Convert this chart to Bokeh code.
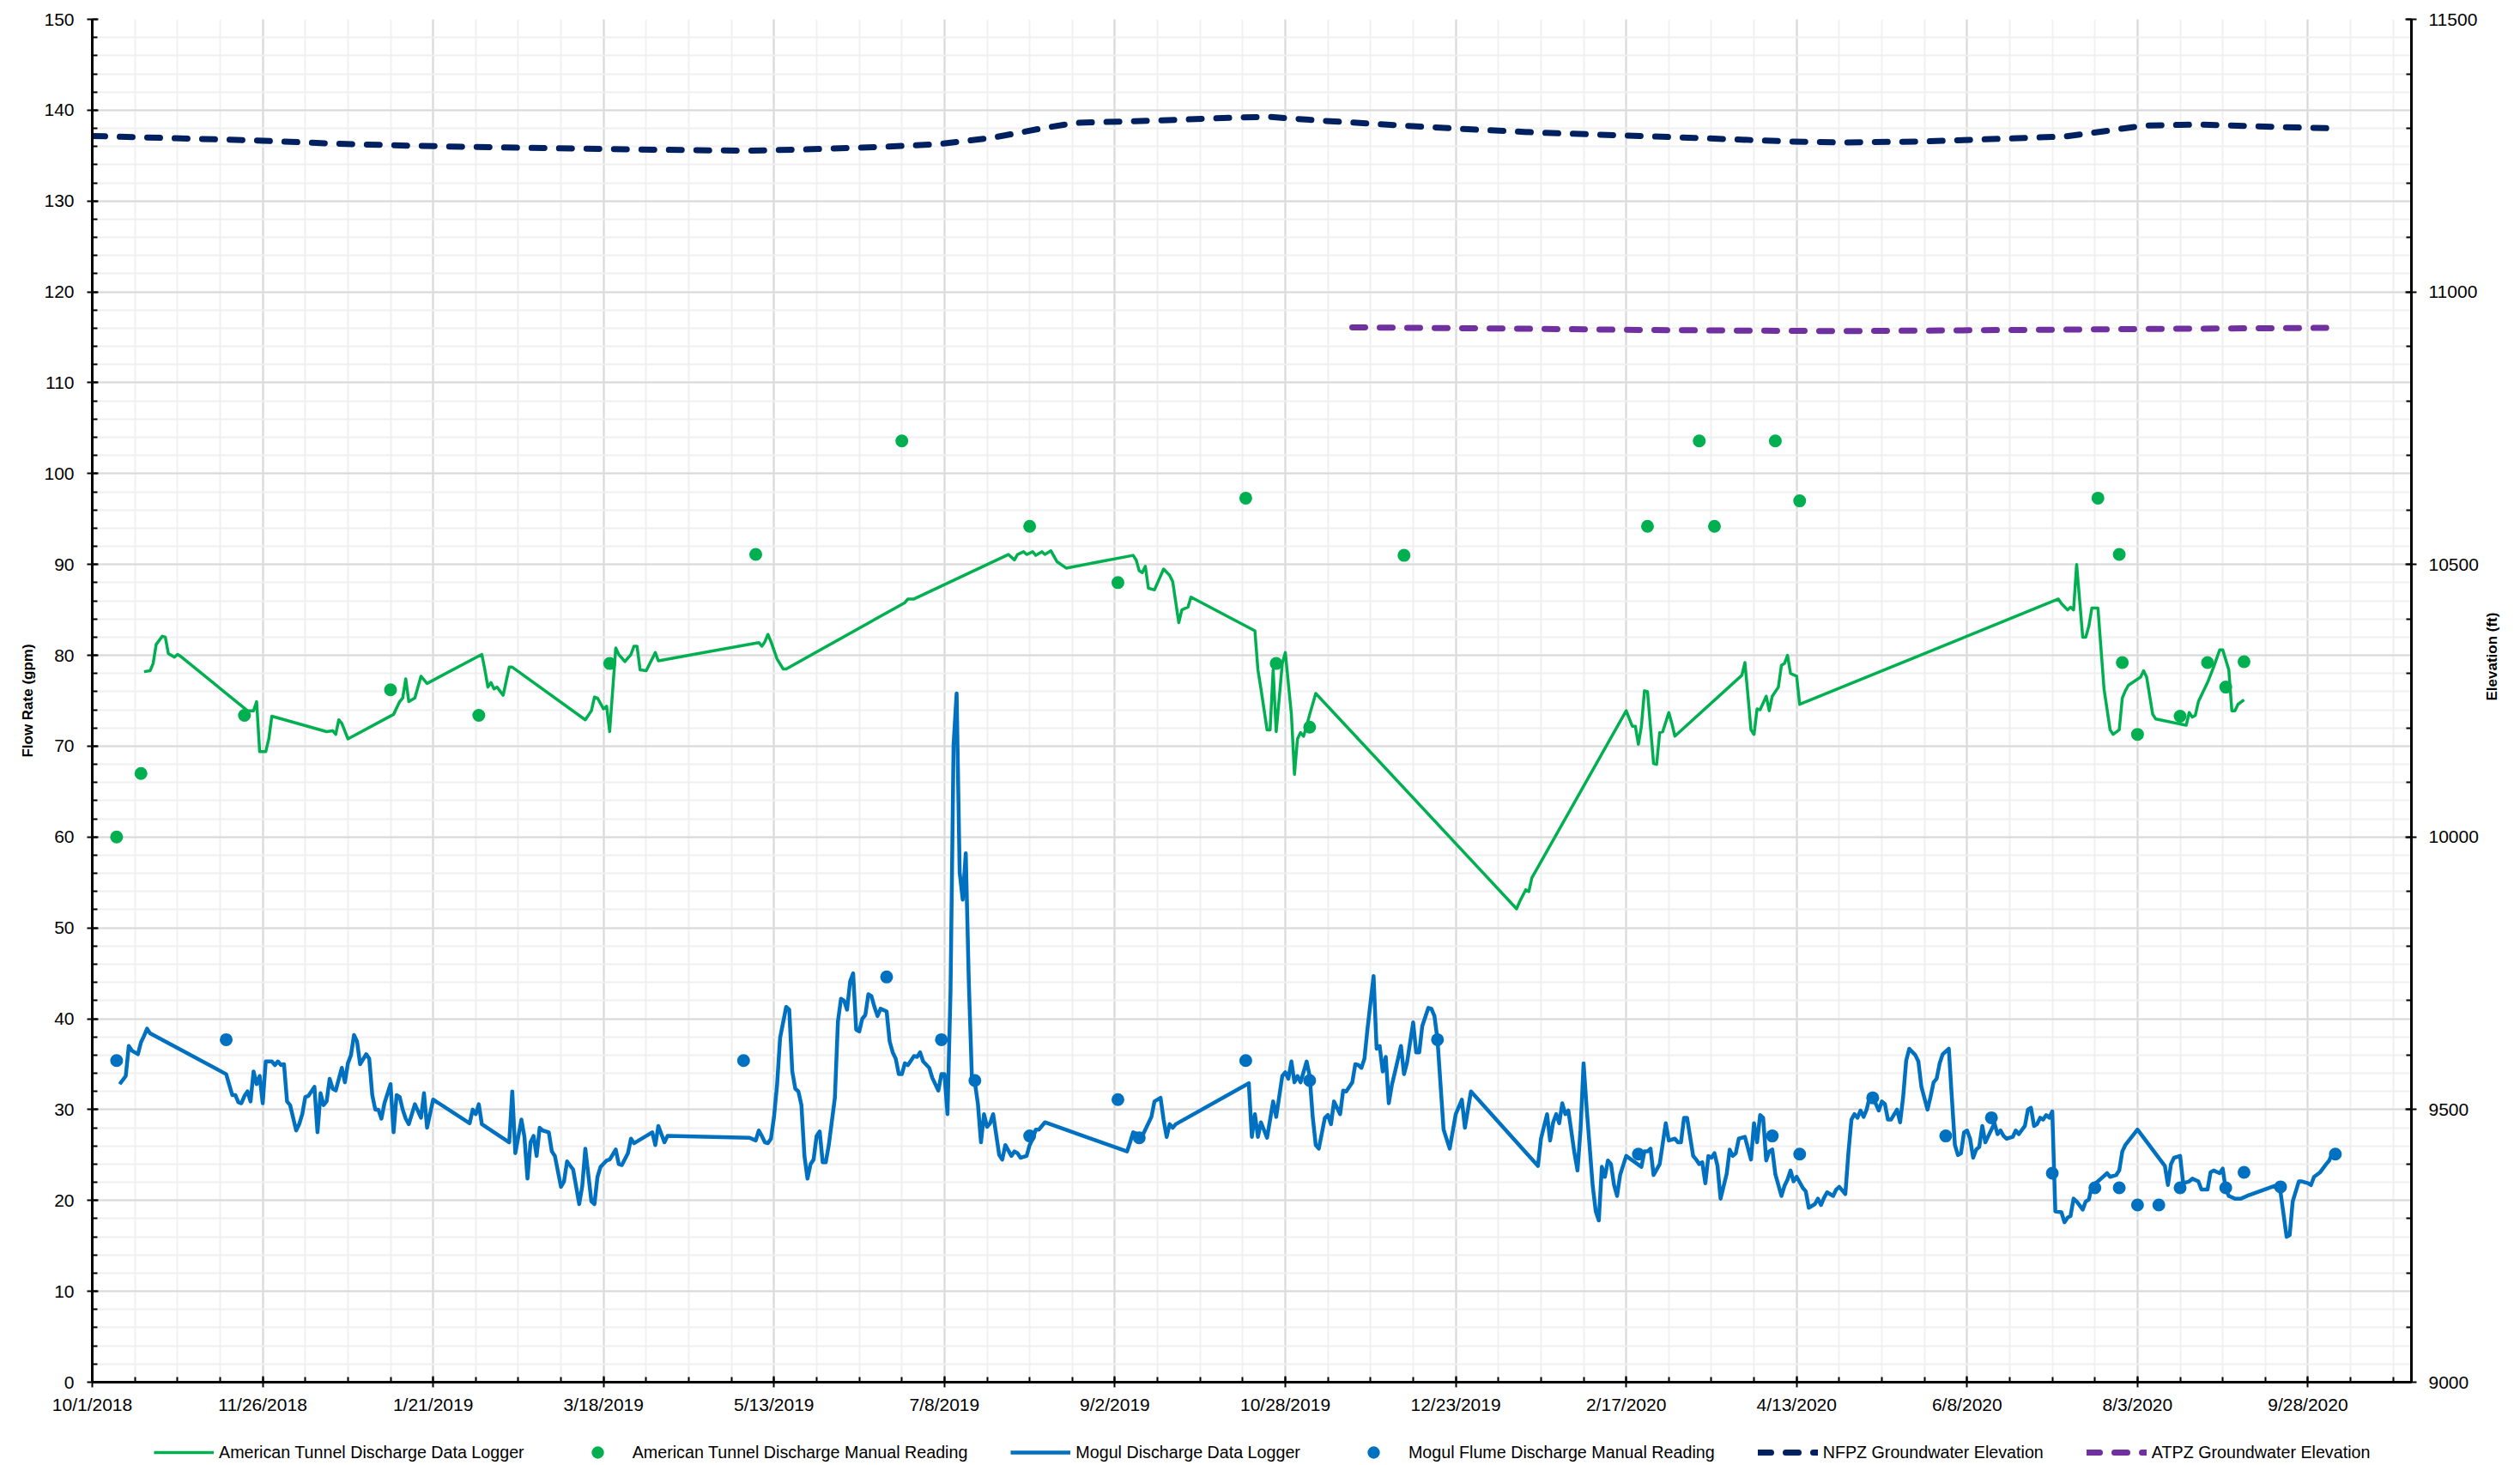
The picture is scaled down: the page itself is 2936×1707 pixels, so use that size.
import math
import pandas as pd
from bokeh.plotting import figure
from bokeh.layouts import column
from bokeh.models import Range1d, LinearAxis, FixedTicker, Legend, LegendItem
from bokeh.embed import file_html
from bokeh.resources import INLINE

# ---------------- data ----------------
X_TICK_LABELS = ["10/1/2018", "11/26/2018", "1/21/2019", "3/18/2019", "5/13/2019", "7/8/2019",
                 "9/2/2019", "10/28/2019", "12/23/2019", "2/17/2020", "4/13/2020", "6/8/2020",
                 "8/3/2020", "9/28/2020"]
X_START, X_END = "2018-10-01", "2020-11-01"
FLOW_TICKS = list(range(0, 151, 10))
FLOW_MINOR = list(range(0, 151, 2))
ELEV_TICKS = list(range(9000, 11501, 500))
ELEV_MINOR = list(range(9000, 11501, 100))

at_logger_dates = [
    "2018-10-18", "2018-10-20", "2018-10-21", "2018-10-22", "2018-10-24", "2018-10-25", "2018-10-26", "2018-10-28", "2018-10-29", "2018-10-30",
    "2018-11-21", "2018-11-23", "2018-11-24", "2018-11-25", "2018-11-27", "2018-11-28", "2018-11-29", "2018-12-17", "2018-12-19", "2018-12-20",
    "2018-12-21", "2018-12-22", "2018-12-24", "2019-01-08", "2019-01-10", "2019-01-11", "2019-01-12", "2019-01-13", "2019-01-15", "2019-01-17",
    "2019-01-19", "2019-02-06", "2019-02-07", "2019-02-08", "2019-02-09", "2019-02-10", "2019-02-11", "2019-02-13", "2019-02-15", "2019-02-16",
    "2019-03-12", "2019-03-14", "2019-03-15", "2019-03-16", "2019-03-18", "2019-03-19", "2019-03-20", "2019-03-22", "2019-03-23", "2019-03-25",
    "2019-03-27", "2019-03-28", "2019-03-29", "2019-03-30", "2019-04-01", "2019-04-04", "2019-04-05", "2019-05-08", "2019-05-09", "2019-05-10",
    "2019-05-11", "2019-05-12", "2019-05-14", "2019-05-16", "2019-05-17", "2019-06-25", "2019-06-26", "2019-06-28", "2019-07-29", "2019-07-31",
    "2019-08-01", "2019-08-03", "2019-08-04", "2019-08-06", "2019-08-07", "2019-08-09", "2019-08-10", "2019-08-12", "2019-08-14", "2019-08-17",
    "2019-09-08", "2019-09-09", "2019-09-10", "2019-09-11", "2019-09-12", "2019-09-13", "2019-09-15", "2019-09-18", "2019-09-20", "2019-09-21",
    "2019-09-23", "2019-09-24", "2019-09-26", "2019-09-27", "2019-10-18", "2019-10-19", "2019-10-20", "2019-10-22", "2019-10-23", "2019-10-24",
    "2019-10-25", "2019-10-26", "2019-10-27", "2019-10-28", "2019-10-30", "2019-10-31", "2019-11-01", "2019-11-02", "2019-11-03", "2019-11-04",
    "2019-11-05", "2019-11-07", "2020-01-12", "2020-01-13", "2020-01-15", "2020-01-16", "2020-01-17", "2020-02-17", "2020-02-19", "2020-02-20",
    "2020-02-21", "2020-02-22", "2020-02-23", "2020-02-24", "2020-02-26", "2020-02-27", "2020-02-28", "2020-02-29", "2020-03-02", "2020-03-03",
    "2020-03-04", "2020-03-26", "2020-03-27", "2020-03-28", "2020-03-29", "2020-03-30", "2020-03-31", "2020-04-01", "2020-04-03", "2020-04-04",
    "2020-04-05", "2020-04-07", "2020-04-08", "2020-04-09", "2020-04-10", "2020-04-11", "2020-04-13", "2020-04-14", "2020-07-08", "2020-07-09",
    "2020-07-11", "2020-07-12", "2020-07-13", "2020-07-14", "2020-07-16", "2020-07-17", "2020-07-18", "2020-07-19", "2020-07-21", "2020-07-23",
    "2020-07-25", "2020-07-26", "2020-07-28", "2020-07-29", "2020-07-30", "2020-07-31", "2020-08-04", "2020-08-05", "2020-08-06", "2020-08-08",
    "2020-08-09", "2020-08-19", "2020-08-20", "2020-08-21", "2020-08-22", "2020-08-23", "2020-08-26", "2020-08-28", "2020-08-30", "2020-08-31",
    "2020-09-02", "2020-09-03", "2020-09-04", "2020-09-05", "2020-09-07"]
at_logger_gpm = [
    78.2, 78.3, 79.1, 81.2, 82.1, 82.0, 80.2, 79.8, 80.1, 79.9,
    73.9, 73.9, 74.9, 69.4, 69.4, 70.8, 73.3, 71.6, 71.7, 71.3,
    72.9, 72.5, 70.8, 73.5, 74.9, 75.3, 77.4, 74.9, 75.3, 77.7,
    76.9, 80.1, 78.4, 76.5, 77.0, 76.3, 76.5, 75.6, 78.7, 78.7,
    72.9, 73.9, 75.4, 75.3, 74.1, 74.4, 71.6, 80.8, 80.1, 79.3,
    80.1, 81.0, 81.0, 78.4, 78.3, 80.3, 79.4, 81.4, 81.0, 81.5,
    82.3, 81.5, 79.6, 78.5, 78.5, 85.8, 86.2, 86.2, 91.1, 90.5,
    91.1, 91.4, 91.1, 91.4, 91.0, 91.4, 91.1, 91.5, 90.3, 89.6,
    91.0, 90.5, 89.3, 89.1, 89.8, 87.4, 87.2, 89.5, 88.8, 88.1,
    83.6, 85.0, 85.3, 86.4, 82.7, 78.4, 76.3, 71.8, 71.8, 78.4,
    71.6, 75.3, 79.1, 80.3, 73.5, 66.9, 70.8, 71.5, 71.1, 72.2,
    73.5, 75.8, 52.1, 52.9, 54.2, 54.0, 55.5, 73.9, 72.2, 72.2,
    70.2, 72.2, 76.1, 76.0, 68.1, 68.0, 71.5, 71.6, 73.7, 72.5,
    71.1, 77.8, 79.2, 75.6, 71.8, 71.3, 74.1, 74.0, 75.5, 73.9,
    75.5, 76.5, 78.9, 79.1, 80.0, 78.0, 77.7, 74.6, 86.2, 85.7,
    85.0, 85.3, 85.0, 90.0, 82.0, 82.0, 83.2, 85.2, 85.2, 76.3,
    71.8, 71.3, 71.8, 75.3, 76.1, 76.7, 77.6, 78.3, 77.6, 73.5,
    73.0, 72.3, 73.7, 73.2, 73.4, 74.9, 77.0, 78.7, 80.6, 80.6,
    78.4, 73.9, 73.9, 74.6, 75.1]

at_manual_dates = ["2018-10-09", "2018-10-17", "2018-11-20", "2019-01-07", "2019-02-05", "2019-03-20",
                   "2019-05-07", "2019-06-24", "2019-08-05", "2019-09-03", "2019-10-15", "2019-10-25",
                   "2019-11-05", "2019-12-06", "2020-02-24", "2020-03-12", "2020-03-17", "2020-04-06",
                   "2020-04-14", "2020-07-21", "2020-07-28", "2020-07-29", "2020-08-03", "2020-08-17",
                   "2020-08-26", "2020-09-01", "2020-09-07"]
at_manual_gpm = [60.0, 67.0, 73.4, 76.2, 73.4, 79.1,
                 91.1, 103.6, 94.2, 88.0, 97.3, 79.1,
                 72.1, 91.0, 94.2, 103.6, 94.2, 103.6,
                 97.0, 97.3, 91.1, 79.2, 71.3, 73.3,
                 79.2, 76.5, 79.3]

mogul_logger_dates = [
    "2018-10-10", "2018-10-12", "2018-10-13", "2018-10-14", "2018-10-16", "2018-10-17", "2018-10-18", "2018-10-19", "2018-10-20", "2018-11-14",
    "2018-11-16", "2018-11-17", "2018-11-18", "2018-11-19", "2018-11-20", "2018-11-21", "2018-11-22", "2018-11-23", "2018-11-24", "2018-11-25",
    "2018-11-26", "2018-11-27", "2018-11-29", "2018-11-30", "2018-12-01", "2018-12-02", "2018-12-03", "2018-12-04", "2018-12-05", "2018-12-07",
    "2018-12-08", "2018-12-09", "2018-12-10", "2018-12-11", "2018-12-13", "2018-12-14", "2018-12-15", "2018-12-16", "2018-12-17", "2018-12-18",
    "2018-12-19", "2018-12-20", "2018-12-22", "2018-12-23", "2018-12-24", "2018-12-25", "2018-12-26", "2018-12-27", "2018-12-28", "2018-12-30",
    "2018-12-31", "2019-01-01", "2019-01-02", "2019-01-03", "2019-01-04", "2019-01-05", "2019-01-07", "2019-01-08", "2019-01-09", "2019-01-10",
    "2019-01-11", "2019-01-12", "2019-01-13", "2019-01-15", "2019-01-17", "2019-01-18", "2019-01-19", "2019-01-21", "2019-02-02", "2019-02-03",
    "2019-02-04", "2019-02-05", "2019-02-06", "2019-02-15", "2019-02-16", "2019-02-17", "2019-02-19", "2019-02-20", "2019-02-21", "2019-02-22",
    "2019-02-23", "2019-02-24", "2019-02-25", "2019-02-26", "2019-02-28", "2019-03-01", "2019-03-02", "2019-03-04", "2019-03-05", "2019-03-06",
    "2019-03-08", "2019-03-10", "2019-03-11", "2019-03-12", "2019-03-14", "2019-03-15", "2019-03-16", "2019-03-17", "2019-03-19", "2019-03-20",
    "2019-03-22", "2019-03-23", "2019-03-24", "2019-03-26", "2019-03-27", "2019-03-28", "2019-04-03", "2019-04-04", "2019-04-05", "2019-04-07",
    "2019-04-08", "2019-05-05", "2019-05-07", "2019-05-08", "2019-05-09", "2019-05-10", "2019-05-11", "2019-05-12", "2019-05-13", "2019-05-14",
    "2019-05-15", "2019-05-17", "2019-05-18", "2019-05-19", "2019-05-20", "2019-05-21", "2019-05-22", "2019-05-23", "2019-05-24", "2019-05-25",
    "2019-05-26", "2019-05-27", "2019-05-28", "2019-05-29", "2019-05-30", "2019-05-31", "2019-06-02", "2019-06-03", "2019-06-04", "2019-06-05",
    "2019-06-06", "2019-06-07", "2019-06-08", "2019-06-09", "2019-06-10", "2019-06-11", "2019-06-12", "2019-06-13", "2019-06-14", "2019-06-15",
    "2019-06-16", "2019-06-17", "2019-06-19", "2019-06-20", "2019-06-21", "2019-06-22", "2019-06-23", "2019-06-24", "2019-06-25", "2019-06-26",
    "2019-06-28", "2019-06-29", "2019-06-30", "2019-07-01", "2019-07-03", "2019-07-04", "2019-07-06", "2019-07-07", "2019-07-08", "2019-07-09",
    "2019-07-10", "2019-07-11", "2019-07-12", "2019-07-13", "2019-07-14", "2019-07-15", "2019-07-16", "2019-07-17", "2019-07-18", "2019-07-19",
    "2019-07-20", "2019-07-21", "2019-07-22", "2019-07-23", "2019-07-24", "2019-07-26", "2019-07-27", "2019-07-28", "2019-07-30", "2019-07-31",
    "2019-08-01", "2019-08-02", "2019-08-04", "2019-08-05", "2019-08-06", "2019-08-07", "2019-08-08", "2019-08-10", "2019-09-06", "2019-09-07",
    "2019-09-08", "2019-09-11", "2019-09-12", "2019-09-14", "2019-09-15", "2019-09-17", "2019-09-18", "2019-09-19", "2019-09-20", "2019-09-21",
    "2019-09-22", "2019-10-16", "2019-10-17", "2019-10-18", "2019-10-19", "2019-10-20", "2019-10-22", "2019-10-24", "2019-10-25", "2019-10-27",
    "2019-10-28", "2019-10-29", "2019-10-30", "2019-10-31", "2019-11-01", "2019-11-02", "2019-11-04", "2019-11-05", "2019-11-06", "2019-11-07",
    "2019-11-08", "2019-11-10", "2019-11-11", "2019-11-12", "2019-11-13", "2019-11-15", "2019-11-16", "2019-11-17", "2019-11-19", "2019-11-20",
    "2019-11-21", "2019-11-22", "2019-11-23", "2019-11-24", "2019-11-26", "2019-11-27", "2019-11-28", "2019-11-29", "2019-11-30", "2019-12-01",
    "2019-12-02", "2019-12-03", "2019-12-05", "2019-12-06", "2019-12-07", "2019-12-09", "2019-12-10", "2019-12-11", "2019-12-12", "2019-12-14",
    "2019-12-15", "2019-12-16", "2019-12-17", "2019-12-19", "2019-12-21", "2019-12-23", "2019-12-25", "2019-12-26", "2019-12-28", "2020-01-19",
    "2020-01-20", "2020-01-22", "2020-01-23", "2020-01-24", "2020-01-25", "2020-01-26", "2020-01-27", "2020-01-28", "2020-01-29", "2020-01-31",
    "2020-02-01", "2020-02-02", "2020-02-03", "2020-02-04", "2020-02-06", "2020-02-07", "2020-02-08", "2020-02-09", "2020-02-10", "2020-02-11",
    "2020-02-12", "2020-02-13", "2020-02-14", "2020-02-15", "2020-02-17", "2020-02-22", "2020-02-23", "2020-02-24", "2020-02-25", "2020-02-26",
    "2020-02-28", "2020-03-01", "2020-03-02", "2020-03-04", "2020-03-05", "2020-03-06", "2020-03-07", "2020-03-08", "2020-03-10", "2020-03-11",
    "2020-03-12", "2020-03-13", "2020-03-14", "2020-03-15", "2020-03-16", "2020-03-17", "2020-03-18", "2020-03-19", "2020-03-21", "2020-03-22",
    "2020-03-23", "2020-03-24", "2020-03-25", "2020-03-27", "2020-03-29", "2020-03-30", "2020-03-31", "2020-04-01", "2020-04-02", "2020-04-03",
    "2020-04-04", "2020-04-05", "2020-04-06", "2020-04-08", "2020-04-09", "2020-04-10", "2020-04-11", "2020-04-12", "2020-04-13", "2020-04-15",
    "2020-04-16", "2020-04-17", "2020-04-19", "2020-04-20", "2020-04-21", "2020-04-22", "2020-04-23", "2020-04-25", "2020-04-26", "2020-04-27",
    "2020-04-29", "2020-04-30", "2020-05-01", "2020-05-02", "2020-05-03", "2020-05-04", "2020-05-05", "2020-05-06", "2020-05-07", "2020-05-08",
    "2020-05-10", "2020-05-11", "2020-05-12", "2020-05-13", "2020-05-14", "2020-05-16", "2020-05-17", "2020-05-18", "2020-05-19", "2020-05-20",
    "2020-05-22", "2020-05-23", "2020-05-24", "2020-05-26", "2020-05-27", "2020-05-28", "2020-05-29", "2020-05-30", "2020-05-31", "2020-06-02",
    "2020-06-03", "2020-06-04", "2020-06-05", "2020-06-06", "2020-06-07", "2020-06-08", "2020-06-09", "2020-06-10", "2020-06-11", "2020-06-12",
    "2020-06-13", "2020-06-14", "2020-06-15", "2020-06-17", "2020-06-18", "2020-06-19", "2020-06-20", "2020-06-21", "2020-06-23", "2020-06-24",
    "2020-06-25", "2020-06-27", "2020-06-28", "2020-06-29", "2020-06-30", "2020-07-01", "2020-07-02", "2020-07-03", "2020-07-04", "2020-07-05",
    "2020-07-06", "2020-07-07", "2020-07-09", "2020-07-10", "2020-07-11", "2020-07-12", "2020-07-13", "2020-07-14", "2020-07-16", "2020-07-17",
    "2020-07-18", "2020-07-19", "2020-07-21", "2020-07-22", "2020-07-24", "2020-07-25", "2020-07-27", "2020-07-28", "2020-07-29", "2020-07-30",
    "2020-08-03", "2020-08-12", "2020-08-13", "2020-08-14", "2020-08-15", "2020-08-17", "2020-08-18", "2020-08-20", "2020-08-21", "2020-08-23",
    "2020-08-24", "2020-08-26", "2020-08-27", "2020-08-28", "2020-08-30", "2020-08-31", "2020-09-01", "2020-09-02", "2020-09-04", "2020-09-06",
    "2020-09-08", "2020-09-17", "2020-09-19", "2020-09-21", "2020-09-22", "2020-09-23", "2020-09-25", "2020-09-26", "2020-09-28", "2020-09-29",
    "2020-09-30", "2020-10-02", "2020-10-04", "2020-10-05", "2020-10-06"]
mogul_logger_gpm = [
    32.8, 33.7, 37.0, 36.5, 36.1, 37.4, 38.1, 38.9, 38.4, 33.9,
    31.6, 31.6, 30.8, 30.7, 31.5, 32.0, 30.9, 34.2, 32.8, 33.7,
    30.7, 35.3, 35.3, 34.9, 35.3, 34.9, 35.0, 30.9, 30.5, 27.7,
    28.4, 29.5, 31.4, 31.5, 32.5, 27.5, 31.8, 30.5, 30.9, 33.4,
    32.3, 32.1, 34.6, 33.0, 35.1, 36.0, 38.2, 37.5, 35.0, 36.1,
    35.6, 31.6, 30.0, 30.0, 29.0, 30.7, 32.8, 27.5, 31.6, 31.4,
    30.0, 29.0, 28.4, 30.6, 29.1, 31.8, 28.0, 31.1, 28.5, 30.0,
    29.5, 30.6, 28.4, 26.4, 32.0, 25.2, 28.9, 27.0, 22.4, 26.4,
    27.1, 24.9, 28.0, 27.7, 27.5, 25.4, 24.9, 21.5, 22.1, 24.3,
    23.4, 19.6, 21.6, 25.7, 19.9, 19.6, 22.6, 23.7, 24.4, 24.5,
    25.6, 24.0, 23.9, 25.2, 26.8, 26.3, 27.5, 26.1, 28.2, 26.4,
    27.1, 26.9, 26.6, 27.7, 27.1, 26.4, 26.3, 26.8, 29.2, 32.7,
    37.9, 41.3, 41.0, 34.2, 32.3, 32.0, 30.5, 24.9, 22.4, 24.0,
    24.5, 27.1, 27.6, 24.2, 24.2, 26.1, 31.3, 39.7, 42.2, 42.0,
    41.0, 44.1, 45.0, 38.8, 38.6, 40.0, 40.4, 42.7, 42.5, 41.3,
    40.3, 41.1, 40.8, 37.5, 36.3, 35.6, 33.9, 33.9, 35.1, 34.9,
    35.9, 35.8, 36.3, 35.3, 34.6, 33.5, 32.1, 33.9, 33.9, 29.5,
    43.1, 70.2, 75.8, 56.1, 53.1, 58.2, 44.1, 33.7, 33.0, 30.6,
    26.4, 29.5, 28.1, 28.5, 29.5, 25.0, 24.5, 26.1, 24.9, 25.4,
    25.2, 24.7, 24.9, 26.1, 26.8, 27.8, 27.8, 28.6, 25.4, 26.4,
    27.5, 27.1, 27.8, 29.2, 30.9, 31.3, 28.9, 27.0, 28.4, 28.0,
    28.4, 32.9, 27.0, 29.5, 27.0, 28.6, 26.9, 30.9, 29.2, 33.7,
    34.1, 33.4, 35.3, 33.0, 33.7, 33.0, 35.3, 33.7, 29.2, 26.1,
    25.7, 29.1, 29.4, 28.4, 30.9, 29.5, 32.1, 32.0, 33.0, 35.0,
    34.9, 34.6, 35.6, 38.9, 44.7, 36.7, 37.0, 34.2, 35.8, 30.7,
    32.7, 34.1, 37.0, 33.9, 35.2, 39.6, 36.3, 36.3, 39.2, 41.2,
    41.1, 40.3, 37.7, 27.8, 25.7, 29.5, 31.1, 28.0, 32.0, 23.8,
    26.8, 29.5, 26.6, 28.6, 29.5, 28.5, 30.7, 29.5, 29.9, 25.2,
    23.3, 27.8, 35.1, 30.2, 21.6, 18.8, 17.8, 23.7, 22.6, 24.4,
    24.0, 21.7, 20.5, 22.8, 24.9, 23.7, 25.4, 25.4, 25.7, 22.8,
    24.0, 28.5, 26.6, 26.8, 26.4, 26.4, 29.1, 29.1, 24.9, 24.5,
    24.0, 24.2, 21.9, 24.9, 24.7, 25.2, 23.8, 20.2, 22.9, 25.6,
    24.9, 25.2, 26.8, 27.0, 24.5, 28.5, 26.4, 29.4, 29.1, 24.4,
    25.4, 25.6, 22.9, 20.5, 21.6, 22.3, 23.3, 22.1, 22.6, 21.4,
    21.0, 19.2, 19.6, 20.2, 19.5, 20.3, 20.9, 20.5, 21.2, 21.5,
    20.7, 25.2, 28.9, 29.5, 29.1, 29.9, 29.2, 30.0, 31.4, 31.4,
    29.9, 30.9, 30.6, 28.9, 28.9, 30.0, 28.6, 31.4, 35.4, 36.7,
    36.0, 35.3, 32.5, 30.0, 31.4, 33.0, 33.4, 35.1, 36.1, 36.7,
    31.3, 26.1, 25.0, 25.2, 27.5, 27.7, 26.8, 24.7, 25.6, 25.9,
    28.2, 26.4, 27.1, 28.5, 27.3, 27.7, 27.1, 26.8, 27.0, 27.7,
    27.3, 28.2, 30.0, 30.2, 28.2, 28.4, 29.1, 28.9, 29.4, 29.1,
    29.8, 18.8, 18.7, 17.6, 18.1, 18.3, 20.2, 19.9, 19.0, 19.9,
    20.1, 21.6, 22.1, 22.4, 23.0, 22.6, 22.8, 23.3, 25.4, 26.1,
    27.8, 23.8, 21.7, 24.0, 24.7, 24.9, 21.9, 22.1, 22.4, 22.1,
    21.2, 21.2, 23.1, 23.3, 23.0, 23.5, 21.2, 20.5, 20.2, 20.2,
    20.5, 21.6, 20.9, 16.0, 16.2, 19.9, 22.1, 22.1, 21.9, 21.7,
    22.6, 23.1, 24.0, 24.4, 25.2]

mogul_manual_dates = ["2018-10-09", "2018-11-14", "2019-05-03", "2019-06-19", "2019-07-07", "2019-07-18",
                      "2019-08-05", "2019-09-03", "2019-09-10", "2019-10-15", "2019-11-05", "2019-12-17",
                      "2020-02-21", "2020-04-05", "2020-04-14", "2020-05-08", "2020-06-01", "2020-06-16",
                      "2020-07-06", "2020-07-20", "2020-07-28", "2020-08-03", "2020-08-10", "2020-08-17",
                      "2020-09-01", "2020-09-07", "2020-09-19", "2020-10-07"]
mogul_manual_gpm = [35.4, 37.7, 35.4, 44.6, 37.7, 33.2,
                    27.1, 31.1, 26.9, 35.4, 33.2, 37.7,
                    25.1, 27.1, 25.1, 31.3, 27.1, 29.1,
                    23.0, 21.4, 21.4, 19.5, 19.5, 21.4,
                    21.4, 23.1, 21.5, 25.1]

nfpz_dates = ["2018-10-01", "2018-10-27", "2018-11-23", "2018-12-19", "2019-01-15", "2019-02-12",
              "2019-03-19", "2019-04-16", "2019-05-04", "2019-05-21", "2019-06-18", "2019-07-06",
              "2019-07-24", "2019-08-10", "2019-08-20", "2019-09-07", "2019-09-24", "2019-10-13",
              "2019-10-23", "2019-11-09", "2019-12-06", "2019-12-25", "2020-01-20", "2020-02-16",
              "2020-03-13", "2020-04-10", "2020-04-28", "2020-05-25", "2020-06-20", "2020-07-10",
              "2020-07-26", "2020-08-05", "2020-08-23", "2020-09-10", "2020-09-28", "2020-10-07"]
nfpz_elev_ft = [11286, 11282, 11278, 11272, 11268, 11265,
                11262, 11260, 11259, 11261, 11266, 11271,
                11283, 11301, 11310, 11313, 11316, 11320,
                11321, 11314, 11305, 11299, 11292, 11287,
                11282, 11276, 11274, 11276, 11281, 11285,
                11297, 11305, 11307, 11304, 11301, 11300]

atpz_dates = ["2019-11-19", "2020-01-04", "2020-02-25", "2020-04-28", "2020-06-20", "2020-08-07", "2020-10-04"]
atpz_elev_ft = [10935, 10933, 10930, 10928, 10930, 10932, 10934]

SERIES_NAMES = ["American Tunnel Discharge Data Logger", "American Tunnel Discharge Manual Reading",
                "Mogul Discharge Data Logger", "Mogul Flume Discharge Manual Reading",
                "NFPZ Groundwater Elevation", "ATPZ Groundwater Elevation"]

# ---------------- style ----------------
FONT = "Liberation Sans"
GREEN, BLUE, NAVY, PURPLE = "#00B050", "#0070C0", "#002060", "#7030A0"
W = 2930
H_MAIN = 1654
H_LEG = 50


def to_ms(d):
    return pd.Timestamp(d).value // 10**6


dt = pd.to_datetime

p = figure(width=W, height=H_MAIN, x_axis_type="datetime", output_backend="svg",
           toolbar_location=None,
           x_range=Range1d(dt(X_START), dt(X_END)), y_range=Range1d(0, 150),
           min_border_left=107, min_border_right=W - 2809, min_border_top=22, min_border_bottom=44)
p.extra_y_ranges = {"elev": Range1d(9000, 11500)}
p.outline_line_color = None
p.background_fill_color = "white"

# x ticks
major_x = [to_ms(pd.to_datetime(s, format="%m/%d/%Y")) for s in X_TICK_LABELS]
minor_x = [to_ms(d) for d in pd.date_range(X_START, X_END, freq="14D")]
xticker = FixedTicker(ticks=major_x, minor_ticks=minor_x)
p.xaxis.ticker = xticker
p.xgrid.ticker = xticker
p.xaxis.major_label_overrides = {m: s for m, s in zip(major_x, X_TICK_LABELS)}

yticker = FixedTicker(ticks=FLOW_TICKS, minor_ticks=FLOW_MINOR)
p.yaxis.ticker = yticker
p.ygrid.ticker = yticker
p.yaxis.axis_label = "Flow Rate (gpm)"

right = LinearAxis(y_range_name="elev", axis_label="Elevation (ft)",
                   ticker=FixedTicker(ticks=ELEV_TICKS, minor_ticks=ELEV_MINOR))
right.axis_label_orientation = math.pi / 2
p.add_layout(right, "right")

for ax in [p.xaxis[0], p.yaxis[0], right]:
    ax.axis_line_color = "black"
    ax.axis_line_width = 3
    ax.major_tick_line_color = "black"
    ax.major_tick_line_width = 2
    ax.minor_tick_line_color = "black"
    ax.minor_tick_line_width = 2
    ax.major_tick_in = 7
    ax.major_tick_out = 6
    ax.minor_tick_in = 6
    ax.minor_tick_out = 0
    ax.major_label_text_font = FONT
    ax.major_label_text_font_size = "21px"
    ax.major_label_text_color = "black"
    ax.axis_label_text_font = FONT
    ax.axis_label_text_font_size = "17px"
    ax.axis_label_text_font_style = "bold"
    ax.axis_label_text_color = "black"

p.xaxis.major_label_standoff = 8
p.yaxis.major_label_standoff = 15
right.major_label_standoff = 14
p.yaxis.axis_label_standoff = 6
right.axis_label_standoff = 13

for g in [p.xgrid[0], p.ygrid[0]]:
    g.grid_line_color = "#d9d9d9"
    g.grid_line_width = 2
    g.minor_grid_line_color = "#f0f0f0"
    g.minor_grid_line_width = 2

# ---------------- glyphs ----------------
nfpz_style = dict(line_color=NAVY, line_width=7, line_dash="15 17", line_cap="round")
atpz_style = dict(line_color=PURPLE, line_width=7, line_dash="15 17", line_cap="round")
atl_style = dict(line_color=GREEN, line_width=3.5, line_join="round")
mgl_style = dict(line_color=BLUE, line_width=4.5, line_join="round")
atm_style = dict(size=15, fill_color=GREEN, line_color=None)
mgm_style = dict(size=15, fill_color=BLUE, line_color=None)

p.line(dt(nfpz_dates), nfpz_elev_ft, y_range_name="elev", **nfpz_style)
p.line(dt(atpz_dates), atpz_elev_ft, y_range_name="elev", **atpz_style)
p.line(dt(at_logger_dates), at_logger_gpm, **atl_style)
p.line(dt(mogul_logger_dates), mogul_logger_gpm, **mgl_style)
p.scatter(dt(at_manual_dates), at_manual_gpm, **atm_style)
p.scatter(dt(mogul_manual_dates), mogul_manual_gpm, **mgm_style)

# ---------------- legend strip (separate figure below the chart) ----------------
# its frame is aligned with the chart frame by the column layout
lg = figure(width=W, height=H_LEG, output_backend="svg", toolbar_location=None,
            x_range=Range1d(0, 1), y_range=Range1d(0, 1),
            min_border_left=0, min_border_right=0, min_border_top=0, min_border_bottom=0,
            x_axis_location=None, y_axis_location=None)
lg.outline_line_color = None
lg.xgrid.visible = False
lg.ygrid.visible = False
off = [-5, -4]  # keys placed outside the strip's visible range; only their legend swatches show
lr = [lg.line(off, off, **atl_style), lg.scatter(off, off, **atm_style),
      lg.line(off, off, **mgl_style), lg.scatter(off, off, **mgm_style),
      lg.line(off, off, **nfpz_style), lg.line(off, off, **atpz_style)]
legend = Legend(items=[LegendItem(label=n, renderers=[r]) for n, r in zip(SERIES_NAMES, lr)],
                location=(72, -6), orientation="horizontal",
                glyph_width=70, glyph_height=36, label_standoff=6, spacing=50,
                padding=0, margin=0, border_line_color=None, background_fill_alpha=0,
                label_text_font=FONT, label_text_font_size="19.7px", label_text_color="black")
lg.add_layout(legend)

open("out.html", "w").write(file_html(column(p, lg, spacing=0), INLINE))
